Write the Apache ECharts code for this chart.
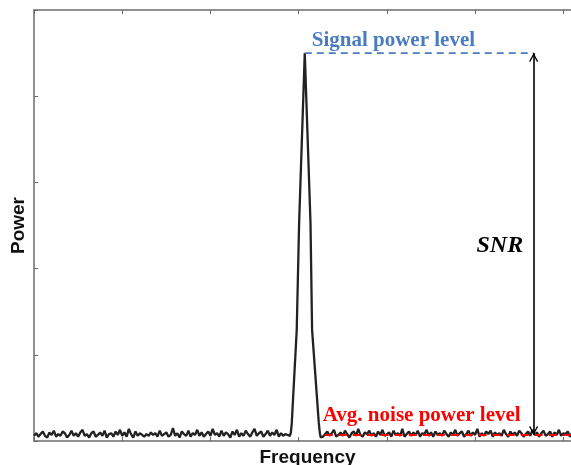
<!DOCTYPE html>
<html><head><meta charset="utf-8">
<script src="https://cdn.jsdelivr.net/npm/echarts@6/dist/echarts.min.js"></script>
<style>html,body{margin:0;padding:0;background:#fff}#c{width:571px;height:465px}</style>
</head><body><div id="c"></div>
<script>
// ---- data ----
const freqMin = 0, freqMax = 6.2, freqTickStep = 1;
const powerMin = 0, powerMax = 5, powerTickStep = 1;
const noiseStep = 0.025;
const leftNoiseStart = 0;
const leftNoise = [
0.06,0.09,0.05,0.08,0.11,0.06,0.04,0.1,0.07,0.12,0.05,0.08,0.06,0.11,0.09,0.04,0.07,0.12,0.06,0.09,
0.05,0.1,0.13,0.06,0.08,0.04,0.09,0.11,0.05,0.07,0.1,0.06,0.12,0.04,0.08,0.09,0.05,0.11,0.07,0.13,
0.06,0.1,0.05,0.14,0.08,0.04,0.11,0.06,0.09,0.07,0.05,0.08,0.06,0.1,0.07,0.09,0.05,0.12,0.06,0.08,
0.1,0.05,0.07,0.15,0.06,0.09,0.04,0.11,0.08,0.06,0.12,0.05,0.09,0.07,0.13,0.06,0.1,0.05,0.08,0.11,
0.06,0.14,0.07,0.09,0.05,0.12,0.06,0.1,0.08,0.04,0.11,0.07,0.13,0.05,0.09,0.06,0.12,0.08,0.05,0.1,
0.14,0.06,0.09,0.11,0.05,0.08,0.12,0.06,0.1,0.07,0.13,0.05,0.09,0.06,0.08,0.07,0.06];
const peakFreq  = [2.90, 2.912, 2.922, 2.978, 3.005, 3.069, 3.134, 3.152, 3.228, 3.24, 3.25];
const peakPower = [0.05, 0.10,  0.21,  1.29,  2.53,  4.50,  2.53,  1.29,  0.21,  0.09, 0.04];
const rightNoiseStart = 3.275;
const rightNoise = [
0.05,0.08,0.11,0.06,0.09,0.13,0.05,0.07,0.1,0.06,0.12,0.08,0.04,0.09,0.11,0.06,0.14,0.07,0.05,0.1,
0.08,0.12,0.06,0.09,0.05,0.11,0.07,0.13,0.06,0.08,0.1,0.05,0.12,0.07,0.09,0.06,0.14,0.05,0.08,0.11,
0.06,0.1,0.07,0.12,0.05,0.09,0.08,0.13,0.06,0.1,0.05,0.11,0.07,0.09,0.06,0.12,0.08,0.05,0.1,0.07,
0.13,0.06,0.09,0.11,0.05,0.08,0.12,0.06,0.1,0.07,0.14,0.05,0.09,0.06,0.11,0.08,0.12,0.05,0.1,0.07,
0.09,0.06,0.13,0.08,0.05,0.11,0.07,0.1,0.06,0.12,0.09,0.05,0.08,0.11,0.06,0.13,0.07,0.1,0.05,0.09,
0.12,0.06,0.08,0.11,0.05,0.1,0.07,0.13,0.06,0.09,0.08,0.11,0.05,0.1,0.07,0.12,0.06,0.09];
const signalLevel = 4.5, signalFrom = 3.069, signalTo = 5.663;
const noiseLevel = 0.07, noiseFrom = 3.295, noiseTo = 6.2;
const snrFreq = 5.663;
const signalLabel = 'Signal power level';
const noiseLabel = 'Avg. noise power level';
const snrLabel = 'SNR';
const snrLabelPos = [5.28, 2.27];
const signalLabelPos = [3.148, 4.64];
const noiseLabelPos = [3.273, 0.29];
const xName = 'Frequency', yName = 'Power';

// ---- build ----
const spectrum = [];
leftNoise.forEach((v, i) => spectrum.push([+(leftNoiseStart + i * noiseStep).toFixed(4), v]));
peakFreq.forEach((f, i) => spectrum.push([f, peakPower[i]]));
rightNoise.forEach((v, i) => spectrum.push([+(rightNoiseStart + i * noiseStep).toFixed(4), v]));

const axisColor = '#6b6b6b';
const serif = '"Liberation Serif","Times New Roman",serif';
const sans = '"Liberation Sans",Arial,sans-serif';
// open arrowhead; the zero-length segment above the tip centres the tip on the line end
const chevron = 'path://M5,-10 L5,-10 M5,0 L10,9 L8.8,10 L5,3 L1.2,10 L0,9 Z';
const chart = echarts.init(document.getElementById('c'), null, {renderer: 'canvas'});
const txt = (pos, text, style) => ({
  type: 'scatter', data: [pos], symbolSize: 0, silent: true, z: 10,
  itemStyle: {opacity: 1},
  label: Object.assign({show: true, formatter: text, textBorderWidth: 0, opacity: 1}, style)
});
chart.setOption({
  animation: false,
  grid: {left: 34, top: 10, width: 547, height: 431, containLabel: false, outerBoundsMode: 'none'},
  xAxis: [
    {type: 'value', min: freqMin, max: freqMax, interval: freqTickStep, position: 'bottom',
     name: xName, nameLocation: 'middle', nameGap: 7,
     nameTextStyle: {fontFamily: sans, fontWeight: 'bold', fontSize: 19, color: '#111'},
     axisLine: {show: true, onZero: false, lineStyle: {color: axisColor, width: 1.5}},
     axisTick: {show: true, inside: true, length: 4, lineStyle: {color: axisColor}},
     axisLabel: {show: false}, splitLine: {show: false}},
    {type: 'value', min: freqMin, max: freqMax, interval: freqTickStep, position: 'top',
     axisLine: {show: true, onZero: false, lineStyle: {color: axisColor, width: 1.5}},
     axisTick: {show: true, inside: true, length: 4, lineStyle: {color: axisColor}},
     axisLabel: {show: false}, splitLine: {show: false}}
  ],
  yAxis: [
    {type: 'value', min: powerMin, max: powerMax, interval: powerTickStep, position: 'left',
     name: yName, nameLocation: 'middle', nameGap: 6,
     nameTextStyle: {fontFamily: sans, fontWeight: 'bold', fontSize: 19, color: '#111'},
     axisLine: {show: true, onZero: false, lineStyle: {color: axisColor, width: 1.5}},
     axisTick: {show: true, inside: true, length: 4, lineStyle: {color: axisColor}},
     axisLabel: {show: false}, splitLine: {show: false}}
  ],
  series: [
    {type: 'line', data: spectrum, symbol: 'none', z: 3,
     lineStyle: {color: '#222', width: 2.3}},
    {type: 'line', data: [[signalFrom, signalLevel], [signalTo, signalLevel]], symbol: 'none', z: 4,
     lineStyle: {color: '#4A7CC0', width: 1.8, type: [7, 5]}},
    {type: 'line', data: [[noiseFrom, noiseLevel], [noiseTo, noiseLevel]], symbol: 'none', z: 4,
     lineStyle: {color: '#FF0000', width: 2, type: [8, 6]}},
    {type: 'line', data: [[snrFreq, noiseLevel], [snrFreq, signalLevel]], symbol: 'none', z: 5,
     lineStyle: {width: 0, opacity: 0},
     markLine: {silent: true, symbol: [chevron, chevron], symbolSize: [9, 18],
       label: {show: false}, itemStyle: {color: '#000'},
       lineStyle: {color: '#000', width: 1.6, type: 'solid'},
       data: [[{coord: [snrFreq, noiseLevel]}, {coord: [snrFreq, signalLevel]}]]}},
    txt(signalLabelPos, signalLabel, {position: 'right', distance: 0, color: '#4A7CC0',
      fontFamily: serif, fontWeight: 'bold', fontSize: 21}),
    txt(noiseLabelPos, noiseLabel, {position: 'right', distance: 0, color: '#FF0000',
      fontFamily: serif, fontWeight: 'bold', fontSize: 21}),
    txt(snrLabelPos, snrLabel, {position: 'inside', color: '#000',
      fontFamily: serif, fontWeight: 'bold', fontStyle: 'italic', fontSize: 24})
  ]
});
</script></body></html>
